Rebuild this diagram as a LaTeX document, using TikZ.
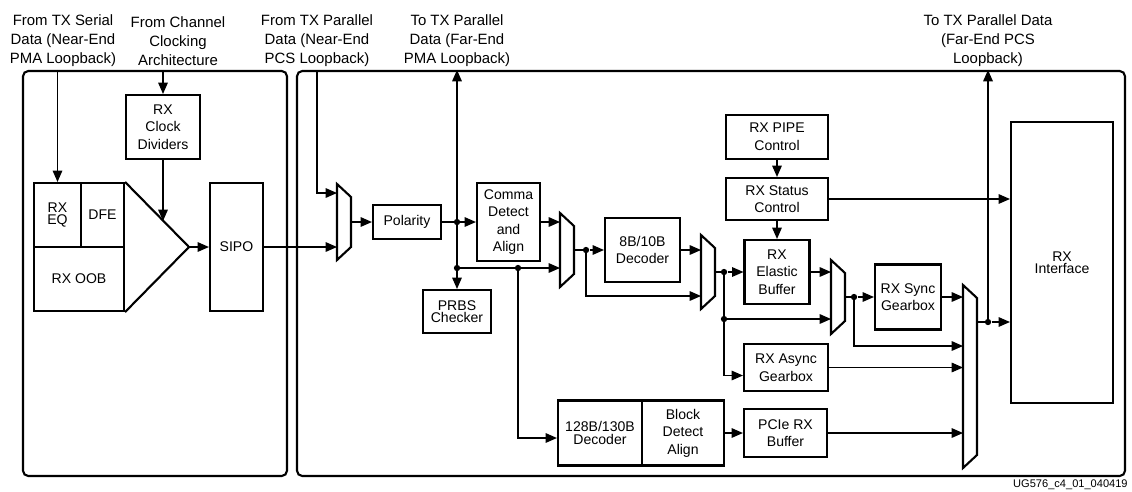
\documentclass[tikz,border=0pt]{standalone}
\usepackage{fontspec}
\setmainfont{Liberation Sans}
\usetikzlibrary{arrows.meta,calc}

\tikzset{
    blk/.style 2 args={draw,line width=1.2pt,minimum width=#1*0.02cm,minimum height=#2*0.02cm,
        inner sep=0pt,align=center,font=\fontsize{8}{10}\selectfont},
    tight/.style={font=\fontsize{8}{7}\selectfont},
    frame/.style 2 args={draw,line width=1.2pt,rounded corners=3pt,minimum width=#1*0.02cm,
        minimum height=#2*0.02cm,inner sep=0pt},
    lbl/.style={align=center,font=\fontsize{8.5}{10.8}\selectfont},
    wire/.style={line width=0.65pt},
    flow/.style={wire,-{Triangle[length=6.5pt,width=5.5pt]}},
    muxline/.style={line width=1.2pt,line join=miter},
    dot/.style={circle,fill,inner sep=0pt,minimum size=3.6pt}
}

% name, left x, top y, bottom y, output y
\newcommand{\muxat}[5]{%
    \draw[muxline] (#2,#3) -- (#2+14,#3+13) -- (#2+14,#4-13) -- (#2,#4) -- cycle;
    \coordinate (#1in) at (#2,#5);
    \coordinate (#1out) at (#2+14,#5);}

\begin{document}
\begin{tikzpicture}[x=0.02cm,y=-0.02cm]
    \useasboundingbox (0,0) rectangle (1132,491);

    \node[frame={264}{405}] (pma) at (155,273.5) {};
    \node[frame={828}{405}] (pcs) at (711,273.5) {};

    \node[lbl] (l1) at (63,41) {From TX Serial\\Data (Near-End\\PMA Loopback)};
    \node[lbl] (l2) at (178,41) {From Channel\\Clocking\\Architecture};
    \node[lbl] (l3) at (317,41) {From TX Parallel\\Data (Near-End\\PCS Loopback)};
    \node[lbl] (l4) at (457,41) {To TX Parallel\\Data (Far-End\\PMA Loopback)};
    \node[lbl] (l5) at (988,41) {To TX Parallel Data\\(Far-End PCS\\Loopback)};

    % PMA side
    \node[blk={74}{64}] (clkdiv) at (163,127) {RX\\Clock\\Dividers};
    \node[blk={47}{64},tight] (eq) at (57.5,215) {RX\\EQ};
    \node[blk={43}{64}] (dfe) at (102.5,215) {DFE};
    \node[blk={90}{64}] (oob) at (79,279) {RX OOB};
    \coordinate (amp) at (189,247);
    \draw[muxline] (dfe.north east) -- (amp) -- (oob.south east);
    \node[blk={53}{128}] (sipo) at (236.5,247) {SIPO};

    \draw[flow] (eq.north |- pma.north) -- (eq.north);
    \draw[flow] (clkdiv.north |- pma.north) -- (clkdiv.north);
    \draw[flow] (clkdiv.south) -- (clkdiv.south |- 0,221);
    \draw[flow] (amp) -- (sipo);

    % PCS side
    \muxat{m1}{337}{184}{260}{222}
    \muxat{m2}{560}{213}{287}{250}
    \muxat{m3}{701}{235}{309}{272}
    \muxat{m4}{831}{260}{334}{297}
    \muxat{m5}{963}{285}{468}{322}

    \node[blk={68}{34}] (pol) at (407,222) {Polarity};
    \node[blk={63}{78}] (comma) at (508.5,222) {Comma\\Detect\\and\\Align};
    \node[blk={68}{43},tight] (prbs) at (457,311.5) {PRBS\\Checker};
    \node[blk={75}{64}] (dec8) at (642.5,250) {8B/10B\\Decoder};
    \node[blk={102}{44}] (pipe) at (777,137) {RX PIPE\\Control};
    \node[blk={102}{42}] (stat) at (777,199) {RX Status\\Control};
    \node[blk={65}{64}] (ebuf) at (777,272) {RX\\Elastic\\Buffer};
    \node[blk={84}{47}] (async) at (786,367.5) {RX Async\\Gearbox};
    \node[blk={66}{65}] (sync) at (908,297) {RX Sync\\Gearbox};
    \node[blk={84}{65},tight] (dec128) at (600,433) {128B/130B\\Decoder};
    \node[blk={82}{65}] (bda) at (683,433) {Block\\Detect\\Align};
    \node[blk={83}{48}] (pcie) at (785.5,433) {PCIe RX\\Buffer};
    \node[blk={102}{281},tight] (rxif) at (1062,262.5) {RX\\Interface};

    \node[dot] (d1) at (457,222) {};
    \node[dot] (d2) at (457,268) {};
    \node[dot] (d3) at (518,268) {};
    \node[dot] (d4) at (586,250) {};
    \node[dot] (d5) at (724,272) {};
    \node[dot] (d6) at (724,319) {};
    \node[dot] (d7) at (854,297) {};
    \node[dot] (d8) at (988,322) {};

    \coordinate (nepcs) at (317,71);
    \coordinate (m1a) at (337,193);
    \coordinate (m3b) at (701,296);
    \coordinate (m5a) at (963,346);

    \draw[flow] (nepcs) |- (m1a);
    \draw[flow] (sipo) -- (sipo -| m1in);
    \draw[flow] (m1out) -- (pol);
    \draw[flow] (pol) -- (comma);
    \draw[flow] (d1.center) -- (d1 |- pcs.north);
    \draw[wire] (d1.center) -- (d2.center);
    \draw[flow] (d2.center) -- (prbs);
    \draw[flow] (d2.center) -- (d2 -| m2in);
    \draw[flow] (comma) -- (comma -| m2in);
    \draw[flow] (d3.center) |- ($(dec128.west)+(0,5)$);
    \draw[wire] (m2out) -- (d4.center);
    \draw[flow] (d4) -- (dec8);
    \draw[flow] (d4.center) |- (m3b);
    \draw[flow] (dec8) -- (dec8 -| m3in);
    \draw[wire] (m3out) -- (d5.center);
    \draw[flow] (d5) -- (ebuf);
    \draw[wire] (d5.center) -- (d6.center);
    \draw[flow] (d6.center) -- (d6 -| m4in);
    \draw[flow] (d6.center) |- ($(async.west)+(0,8)$);
    \draw[flow] (pipe) -- (stat);
    \draw[flow] (stat) -- (ebuf);
    \draw[flow] (stat) -- (stat -| rxif.west);
    \draw[flow] (ebuf) -- (ebuf -| m4in);
    \draw[wire] (m4out) -- (d7.center);
    \draw[flow] (d7) -- (sync);
    \draw[flow] (d7.center) |- (m5a);
    \draw[flow] (sync) -- (sync -| m5in);
    \draw[flow] (async) -- (async -| m5in);
    \draw[flow] (bda) -- (pcie);
    \draw[flow] (pcie) -- (pcie -| m5in);
    \draw[wire] (m5out) -- (d8.center);
    \draw[flow] (d8) -- (d8 -| rxif.west);
    \draw[flow] (d8.center) -- (d8 |- pcs.north);

    \node[font=\fontsize{6.3}{7}\selectfont,anchor=south east,inner sep=0pt] (fig) at (1128,490) {UG576\_c4\_01\_040419};
\end{tikzpicture}
\end{document}
